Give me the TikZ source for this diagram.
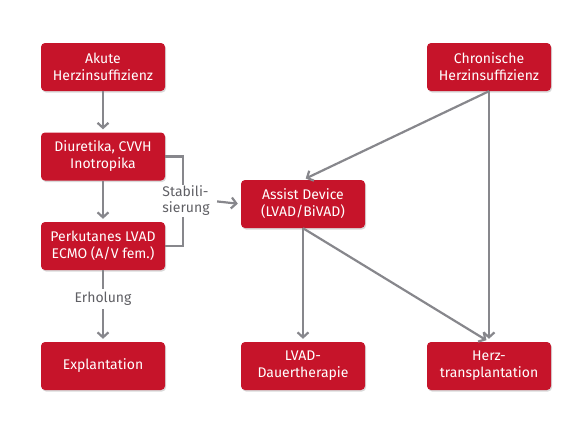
\documentclass[tikz,border=0pt]{standalone}
\usepackage{fontspec}
\setmainfont{Fira Sans}
\usetikzlibrary{arrows.meta,shadows}
\definecolor{boxred}{RGB}{198,20,42}
\definecolor{linegrey}{RGB}{135,135,140}
\definecolor{labelgrey}{RGB}{95,95,100}
\tikzset{
  box/.style={fill=boxred,text=white,rounded corners=4pt,minimum width=124pt,
    minimum height=48pt,align=center,font=\fontsize{14}{17}\selectfont,
    drop shadow={opacity=0.3,shadow xshift=1pt,shadow yshift=-1.5pt}},
  conn/.style={draw=linegrey,line width=2.2pt},
  arr/.style={conn,-{Straight Barb[length=5pt,width=11pt]},shorten >=3pt},
  lbl/.style={text=labelgrey,align=center,font=\fontsize{14}{16}\selectfont}
}
\begin{document}
\begin{tikzpicture}[x=1pt,y=-1pt]
\useasboundingbox(0,0)rectangle(585,421);
% boxes
\node[box](aku)at(103,67){Akute\\Herzinsuffizienz};
\node[box](diu)at(103,156.5){Diuretika, CVVH\\Inotropika};
\node[box](per)at(103,246){Perkutanes LVAD\\ECMO (A/V fem.)};
\node[box](exp)at(103,366){Explantation};
\node[box](ad)at(303,204){Assist Device\\(LVAD/BiVAD)};
\node[box](lvad)at(303,366){LVAD-\\Dauertherapie};
\node[box](chr)at(489,67){Chronische\\Herzinsuffizienz};
\node[box](htx)at(489,366){Herz-\\transplantation};
% labels
\node[lbl,align=left](stab)at(186,201){Stabili-\\sierung};
% connectors
\draw[arr](aku)--(diu);
\draw[arr](diu)--(per);
\draw[arr](per)--(exp);
\draw[conn](diu.east)-|([yshift=-2pt]stab.north-|183,0);
\draw[conn](per.east)-|([yshift=2pt]stab.south-|183,0);
\draw[arr,shorten <=4pt](stab.east)--(ad.west);
\draw[arr](chr.south)--(ad.north);
\draw[arr](chr.south)--(htx.north);
\draw[arr](ad.south)--(lvad.north);
\draw[arr](ad.south)--(htx.north);
\node[lbl,fill=white,inner sep=3pt](erh)at(103,299){Erholung};
\end{tikzpicture}
\end{document}
